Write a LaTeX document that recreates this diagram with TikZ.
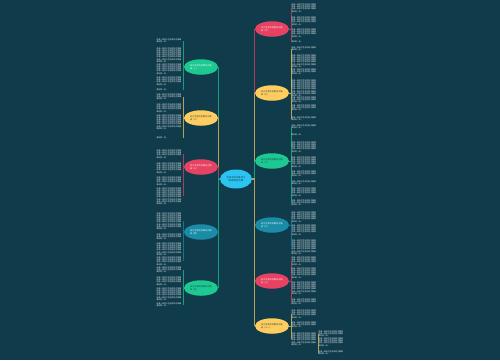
\documentclass[tikz,border=0pt]{standalone}
\usepackage{fontspec}
\newfontfamily\cjk{Noto Sans CJK SC}
\XeTeXlinebreaklocale "zh"
\XeTeXlinebreakskip=0pt plus 0.2pt
\usetikzlibrary{shapes.geometric}
\definecolor{bg}{RGB}{15,59,75}
\definecolor{mgreen}{RGB}{30,200,145}
\definecolor{myellow}{RGB}{255,205,95}
\definecolor{mred}{RGB}{232,66,98}
\definecolor{mblue}{RGB}{26,140,168}
\definecolor{mcyan}{RGB}{45,195,240}
% branch colours, named after the branch nodes
\colorlet{l1}{mgreen}
\colorlet{l2}{myellow}
\colorlet{l3}{mred}
\colorlet{l4}{mblue}
\colorlet{l5}{mgreen}
\colorlet{r1}{mred}
\colorlet{r2}{myellow}
\colorlet{r3}{mgreen}
\colorlet{r4}{mblue}
\colorlet{r5}{mred}
\colorlet{r6}{myellow}
% a text block of #1 lines
\newcount\blkn
\newcommand\fulline{这是一段关于生活的句子摘录}
\newcommand\fullpar{\fulline\par}
\newcommand\blk[1]{\blkn=#1\relax
  \loop\ifnum\blkn>1 \fullpar\advance\blkn by -1 \repeat
  美好的一天。}

\begin{document}
\begin{tikzpicture}[x=0.02cm,y=-0.02cm,
  topic/.style={ellipse, fill=mcyan, minimum width=0.64cm, minimum height=0.38cm,
    inner sep=0pt, text width=0.42cm, align=center,
    font=\cjk\fontsize{1.3}{1.6}\selectfont, text=bg},
  leaf/.style={ellipse, fill=#1, minimum width=0.68cm, minimum height=0.31cm,
    inner sep=0pt, text width=0.44cm, align=left,
    font=\cjk\fontsize{1.2}{1.5}\selectfont},
  blk/.style={text width=0.52cm, inner sep=0pt, align=justify,
    font=\cjk\fontsize{1.08}{1.25}\selectfont, text=white},
  link/.style={draw=#1!70!bg, line width=0.5pt}]
		\useasboundingbox (0,0) rectangle (500,360);
		\fill[bg] (0,0) rectangle (500,360);
		% centre
		\node[topic] (c) at (236,179) {生活中的优美句子\\摘录精选合集};
		% left hand
		\foreach \n/\y/\tc/\t in {l1/67/white/关于生活的优美句子摘录（一）,
		    l2/118/bg/关于生活的优美句子摘录（二）,
		    l3/167/white/关于生活的优美句子摘录（三）,
		    l4/232/white/关于生活的优美句子摘录（四）,
		    l5/288/bg/关于生活的优美句子摘录（五）}{
			\node[leaf=\n, text=\tc] (\n) at (201,\y) {\t};
			\draw[link=\n, line width=0.6pt] (c.west) -| (\n.east);
		}
		\foreach \p/\n/\y/\k in {l1/a/41/2, l1/b/55/7, l1/c/69/5, l1/d/81/4, l1/e/90/1,
		    l2/a/97/3, l2/b/108/4, l2/c/122/7, l2/d/138/1,
		    l3/a/154/4, l3/b/168/5, l3/c/181/4, l3/d/196/8,
		    l4/a/221/8, l4/b/237/3, l4/c/249/6, l4/d/261/4,
		    l5/a/270/3, l5/b/281/4, l5/c/294/6, l5/d/305/2}{
			\node[blk, anchor=east] (\p\n) at (183,\y) {\blk{\k}};
			\draw[link=\p] (\p.west) -| (\p\n.east);
		}
		% right hand
		\foreach \n/\y/\tc/\t in {r1/29/white/关于生活的优美句子摘录（六）,
		    r2/93/bg/关于生活的优美句子摘录（七）,
		    r3/161/bg/关于生活的优美句子摘录（八）,
		    r4/225/white/关于生活的优美句子摘录（九）,
		    r5/281/white/关于生活的优美句子摘录（十）,
		    r6/326/bg/关于生活的优美句子摘录（十一）}{
			\node[leaf=\n, text=\tc] (\n) at (272,\y) {\t};
			\draw[link=\n, line width=0.6pt] (c.east) -| (\n.west);
		}
		\foreach \p/\n/\y/\k in {r1/a/8/4, r1/b/21/4, r1/c/33/4, r1/d/42/1,
		    r2/a/49/2, r2/b/61/6, r2/c/72/3, r2/d/88/8, r2/e/100/3, r2/f/108/3, r2/g/119/2,
		    r3/a/127/2, r3/b/135/1, r3/c/147/5, r3/d/162/5, r3/e/174/3, r3/f/183/2,
		    r3/g/192/4, r3/h/203/3,
		    r4/a/217/5, r4/b/230/5, r4/c/247/7,
		    r5/a/261/4, r5/b/273/5, r5/c/288/6, r5/d/302/3,
		    r6/a/314/4, r6/b/325/3, r6/c/339/6}{
			\node[blk, anchor=west] (\p\n) at (291,\y) {\blk{\k}};
			\draw[link=\p] (\p.east) -| (\p\n.west);
		}
		% third level
		\foreach \n/\y/\k in {a/334/3, b/342/4, c/353/2}{
			\node[blk, anchor=west] (s\n) at (318,\y) {\blk{\k}};
			\draw[link=r6] (r6c.east) -| (s\n.west);
		}
\end{tikzpicture}
\end{document}
